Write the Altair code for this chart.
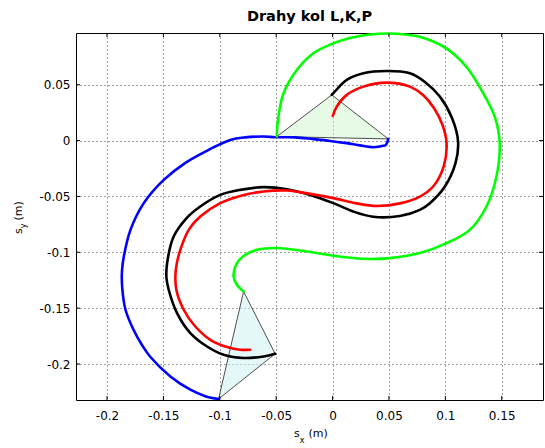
import altair as alt
import pandas as pd

# ---- data (metres) ----
blue_x = [0.0494, 0.0473, 0.0450, 0.0361, 0.0243, 0.0126, -0.0022, -0.0170, -0.0332, -0.0509, -0.0612,
          -0.0774, -0.0907, -0.1099, -0.1305, -0.1497, -0.1674, -0.1792, -0.1851, -0.1867, -0.1866, -0.1836,
          -0.1765, -0.1686, -0.1615, -0.1438, -0.1261, -0.1128, -0.1011]
blue_y = [0.0015, -0.0038, -0.0047, -0.0059, -0.0043, -0.0023, -0.0003, 0.0013, 0.0029, 0.0030, 0.0036,
          0.0029, 0.0006, -0.0083, -0.0199, -0.0352, -0.0560, -0.0799, -0.1038, -0.1165, -0.1306, -0.1514,
          -0.1693, -0.1836, -0.1937, -0.2111, -0.2230, -0.2288, -0.2313]

green_x = [-0.0494, -0.0494, -0.0480, -0.0435, -0.0317, -0.0170, 0.0007, 0.0155, 0.0332, 0.0509, 0.0642,
           0.0774, 0.0951, 0.1075, 0.1195, 0.1310, 0.1438, 0.1482, 0.1453, 0.1365, 0.1217, 0.1011, 0.0774,
           0.0509, 0.0273, 0.0007, -0.0228, -0.0494, -0.0671, -0.0774, -0.0848, -0.0878, -0.0848, -0.0789]
green_y = [0.0036, 0.0066, 0.0215, 0.0424, 0.0632, 0.0782, 0.0871, 0.0919, 0.0950, 0.0959, 0.0950,
           0.0930, 0.0860, 0.0775, 0.0650, 0.0470, 0.0215, -0.0023, -0.0322, -0.0590, -0.0799, -0.0918, -0.1007,
           -0.1052, -0.1058, -0.1031, -0.0993, -0.0962, -0.0978, -0.1022, -0.1097, -0.1216, -0.1291, -0.1351]

black_x = [-0.0007, 0.0007, 0.0126, 0.0273, 0.0480, 0.0686, 0.0819, 0.0951, 0.1060, 0.1113, 0.1090,
           0.0996, 0.0863, 0.0774, 0.0597, 0.0361, 0.0184, 0.0007, -0.0199, -0.0405, -0.0612,
           -0.0819, -0.0996, -0.1173, -0.1300, -0.1409, -0.1467, -0.1473, -0.1453, -0.1379, -0.1261,
           -0.1113, -0.0966, -0.0789, -0.0612, -0.0509]
black_y = [0.0409, 0.0424, 0.0543, 0.0603, 0.0623, 0.0603, 0.0525, 0.0394, 0.0200, -0.0009, -0.0202,
           -0.0411, -0.0560, -0.0620, -0.0675, -0.0682, -0.0635, -0.0560, -0.0486, -0.0435, -0.0417,
           -0.0441, -0.0486, -0.0590, -0.0700, -0.0859, -0.1097, -0.1228, -0.1335, -0.1544, -0.1723,
           -0.1843, -0.1917, -0.1946, -0.1932, -0.1908]

red_x = [0.0002, 0.0037, 0.0126, 0.0273, 0.0480, 0.0686, 0.0800, 0.0900, 0.0975, 0.1011, 0.0985,
         0.0892, 0.0774, 0.0597, 0.0391, 0.0214, 0.0007, -0.0199, -0.0405, -0.0612, -0.0819,
         -0.0996, -0.1173, -0.1270, -0.1350, -0.1390, -0.1385, -0.1320, -0.1217, -0.1084, -0.0936,
         -0.0819, -0.0730]
red_y = [0.0221, 0.0304, 0.0409, 0.0483, 0.0519, 0.0483, 0.0410, 0.0290, 0.0140, -0.0023, -0.0233,
         -0.0411, -0.0501, -0.0562, -0.0585, -0.0562, -0.0515, -0.0477, -0.0447, -0.0456, -0.0495,
         -0.0560, -0.0680, -0.0790, -0.0978, -0.1157, -0.1335, -0.1514, -0.1664, -0.1783, -0.1848,
         -0.1872, -0.1872]

tri_start_x = [-0.0494, 0.0494, -0.0007, -0.0494]
tri_start_y = [0.0036, 0.0015, 0.0409, 0.0036]
tri_end_x = [-0.0789, -0.0509, -0.1011, -0.0789]
tri_end_y = [-0.1351, -0.1908, -0.2313, -0.1351]

x_ticks = [-0.2, -0.15, -0.1, -0.05, 0, 0.05, 0.1, 0.15]
y_ticks = [-0.2, -0.15, -0.1, -0.05, 0, 0.05]
x_domain = [-0.2275, 0.1866]
y_domain = [-0.2322, 0.0963]

title_text = "Drahy kol L,K,P"

W, H = 467, 367
FONT = "DejaVu Sans"


def frame(xs, ys):
    return pd.DataFrame({"x": xs, "y": ys, "idx": list(range(len(xs)))})


X = alt.X("x:Q", scale=alt.Scale(domain=x_domain, nice=False, zero=False),
          axis=alt.Axis(values=x_ticks, title=None, grid=True, ticks=False, domain=False,
                        labelExpr="'' + datum.value", labelPadding=10, labelFont=FONT,
                        labelFontSize=12, labelColor="#000", gridColor="#000", gridOpacity=0.75,
                        gridDash=[1, 3], gridWidth=1, labelFlush=False))
Y = alt.Y("y:Q", scale=alt.Scale(domain=y_domain, nice=False, zero=False),
          axis=alt.Axis(values=y_ticks, title=None, grid=True, ticks=False, domain=False,
                        labelExpr="'' + datum.value", labelPadding=6, labelFont=FONT,
                        labelFontSize=12, labelColor="#000", gridColor="#000", gridOpacity=0.75,
                        gridDash=[1, 3], gridWidth=1, labelFlush=False))


def tri(xs, ys, fill):
    return alt.Chart(frame(xs, ys)).mark_line(
        fill=fill, stroke="#3a3a3a", strokeWidth=0.9, fillOpacity=0.55
    ).encode(x=X, y=Y, order="idx:Q")


def curve(xs, ys, color):
    return alt.Chart(frame(xs, ys)).mark_line(
        color=color, strokeWidth=2.6, strokeCap="round", strokeJoin="round", interpolate="catmull-rom"
    ).encode(x=X, y=Y, order="idx:Q")


one = pd.DataFrame({"a": [0]})


def label(text, x, y, size, **kw):
    return alt.Chart(one).mark_text(text=text, font=FONT, fontSize=size, color="#000",
                                    align="left", baseline="alphabetic", **kw).encode(
        x=alt.value(x), y=alt.value(y))


xt = pd.DataFrame({"x": x_ticks})
yt = pd.DataFrame({"y": y_ticks})
tick_b = alt.Chart(xt).mark_rule(color="#000", strokeWidth=1).encode(x=X, y=alt.value(H), y2=alt.value(H - 4))
tick_t = alt.Chart(xt).mark_rule(color="#000", strokeWidth=1).encode(x=X, y=alt.value(0), y2=alt.value(4))
tick_l = alt.Chart(yt).mark_rule(color="#000", strokeWidth=1).encode(y=Y, x=alt.value(0), x2=alt.value(4))
tick_r = alt.Chart(yt).mark_rule(color="#000", strokeWidth=1).encode(y=Y, x=alt.value(W), x2=alt.value(W - 4))

title = alt.Chart(one).mark_text(text=title_text, font=FONT, fontSize=14.5, fontWeight="bold",
                                 color="#000", align="center", baseline="alphabetic").encode(
    x=alt.value(W / 2), y=alt.value(-12))

# axis titles with subscripts
xl_s = label("s", 218, 403.5, 11)
xl_sub = label("x", 223.7, 410, 8)
xl_m = label("(m)", 232.5, 403.5, 11)
yl_s = label("s", -54, 201, 11, angle=270)
yl_sub = label("y", -50, 195.3, 8, angle=270)
yl_m = label("(m)", -54, 187.5, 11, angle=270)

chart = alt.layer(
    tri(tri_start_x, tri_start_y, "#d2f5d2"),
    tri(tri_end_x, tri_end_y, "#cff2f2"),
    curve(blue_x, blue_y, "#0000ff"),
    curve(green_x, green_y, "#00ff00"),
    curve(black_x, black_y, "#000000"),
    curve(red_x, red_y, "#ff0000"),
    tick_b, tick_t, tick_l, tick_r,
    title, xl_s, xl_sub, xl_m, yl_s, yl_sub, yl_m,
).properties(
    width=W, height=H,
    autosize=alt.AutoSizeParams(type="none"),
    padding={"left": 76, "top": 33, "right": 2, "bottom": 48},
    background="white",
).configure_view(stroke="#000", strokeWidth=1)

chart.save("out.html", embed_options={"renderer": "svg", "actions": False})
